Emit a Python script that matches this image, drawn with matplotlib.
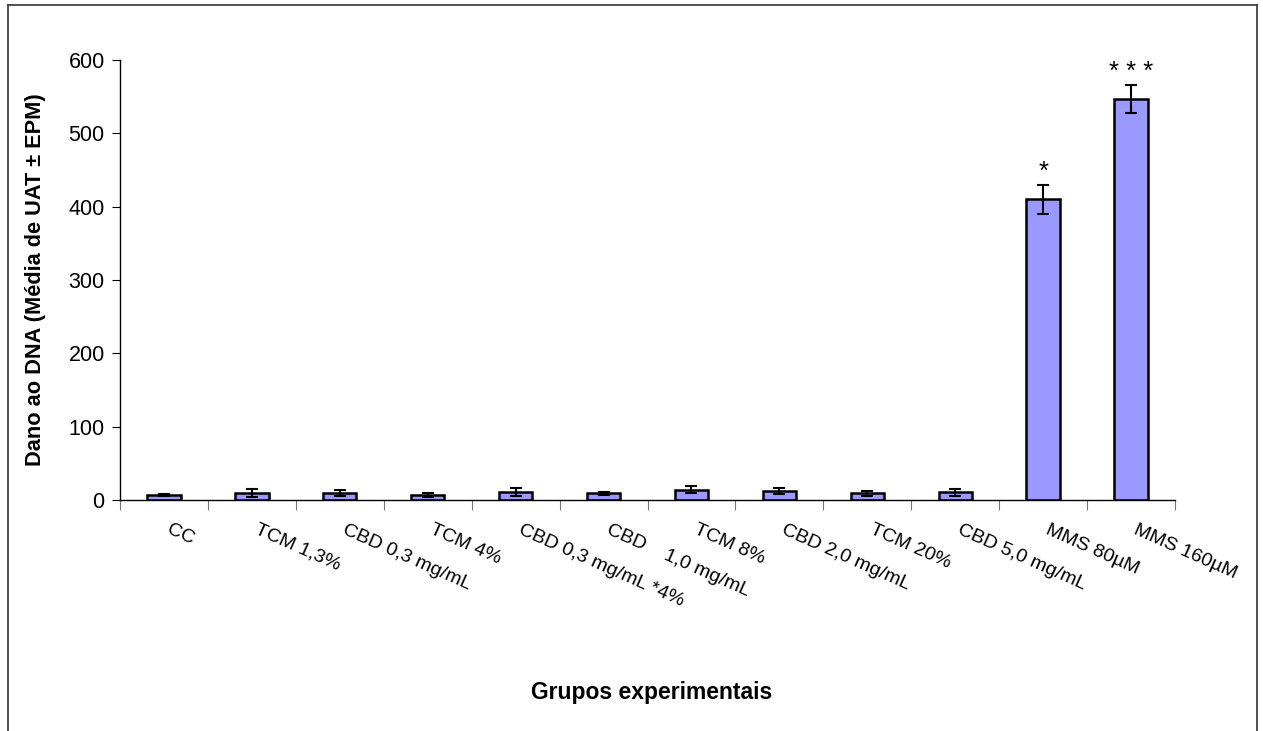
import numpy as np
import matplotlib
matplotlib.use("Agg")
import matplotlib.pyplot as plt
from matplotlib.lines import Line2D

plt.rcParams['font.family'] = ['Liberation Sans', 'DejaVu Sans']

grupos = ['CC', 'TCM 1,3%', 'CBD 0,3 mg/mL', 'TCM 4%', 'CBD 0,3 mg/mL *4%',
          'CBD    1,0 mg/mL', 'TCM 8%', 'CBD 2,0 mg/mL', 'TCM 20%',
          'CBD 5,0 mg/mL', 'MMS 80µM', 'MMS 160µM']
media = [7, 9, 10, 7, 10.5, 9, 14, 12, 9, 10.5, 410, 547]
epm = [1.5, 5.5, 4, 2.5, 5.5, 1.5, 4.5, 4, 3, 4.5, 20, 19]
signif = ['', '', '', '', '', '', '', '', '', '', '*', '* * *']
yticks = [0, 100, 200, 300, 400, 500, 600]

fig = plt.figure(figsize=(12.63, 7.31), dpi=100)
ax = fig.add_axes([120 / 1263, 1 - 500 / 731, 1055 / 1263, 440 / 731])

x = np.arange(len(grupos))
ax.bar(x, media, width=0.38, color='#9999FF', edgecolor='black', linewidth=1.8, zorder=2)
ax.errorbar(x, media, yerr=epm, fmt='none', ecolor='black', elinewidth=1.5,
            capsize=4.5, capthick=1.5, zorder=3)

for xi, m, e, s in zip(x, media, epm, signif):
    if s:
        ax.text(xi, m + e + 1, s, ha='center', va='bottom', fontsize=18.5)

ax.set_xlim(-0.5, len(grupos) - 0.5)
ax.set_ylim(0, 600)
ax.set_yticks(yticks)
ax.tick_params(axis='y', direction='out', length=6, width=0.8, labelsize=15.5, pad=5)

# ticks between the groups, labels written separately
ax.set_xticks(np.arange(-0.5, len(grupos), 1.0))
ax.set_xticklabels([])
ax.tick_params(axis='x', direction='out', length=7, width=0.8, color='#777777')
for xi, nome in zip(x, grupos):
    ax.text(xi + 0.08, -0.048, nome, transform=ax.get_xaxis_transform(), rotation=-24,
            rotation_mode='anchor', ha='left', va='top', fontsize=14)

for lado in ['top', 'right']:
    ax.spines[lado].set_visible(False)
for lado in ['left', 'bottom']:
    ax.spines[lado].set_linewidth(1.0)

ax.set_ylabel('Dano ao DNA (Média de UAT ± EPM)', fontsize=15.7, fontweight='bold', labelpad=16)
fig.text(652 / 1263, 1 - 692 / 731, 'Grupos experimentais', ha='center', va='center',
         fontsize=16.5, fontweight='bold')

# chart area frame
fx0, fx1 = 8 / 1263, 1257 / 1263
fy1 = 1 - 5 / 731
for xs, ys in [([fx0, fx0], [0, fy1]), ([fx0, fx1], [fy1, fy1]), ([fx1, fx1], [fy1, 0])]:
    fig.add_artist(Line2D(xs, ys, color='#333333', linewidth=1.2, transform=fig.transFigure))

fig.savefig('out.png', dpi=100)
